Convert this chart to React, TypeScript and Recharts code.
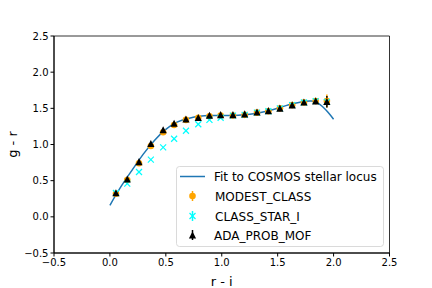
import React from 'react';
import {
  ComposedChart, Line, Scatter, XAxis, YAxis, ErrorBar, ReferenceArea, Label,
} from 'recharts';

// r - i bin centres
const riValues = [0.054, 0.155, 0.26, 0.366, 0.476, 0.574, 0.68, 0.79, 0.89, 0.99, 1.10, 1.205, 1.315, 1.417, 1.52, 1.63, 1.735, 1.84, 1.94];
// MODEST_CLASS g - r
const modestValues = [0.32, 0.51, 0.74, 0.98, 1.17, 1.27, 1.34, 1.37, 1.39, 1.40, 1.40, 1.41, 1.44, 1.46, 1.50, 1.545, 1.58, 1.60, 1.60];
const modestErrors = [0.02, 0.02, 0.02, 0.02, 0.02, 0.02, 0.02, 0.02, 0.02, 0.02, 0.02, 0.02, 0.02, 0.02, 0.02, 0.02, 0.03, 0.04, 0.09];
// CLASS_STAR_I g - r
const classStarValues = [0.33, 0.46, 0.62, 0.79, 0.96, 1.08, 1.19, 1.28, 1.34, 1.37, 1.40, 1.41, 1.44, 1.46, 1.50, 1.545, 1.58, 1.60, 1.59];
// ADA_PROB_MOF g - r
const adaValues = [0.33, 0.52, 0.76, 1.01, 1.20, 1.29, 1.35, 1.37, 1.40, 1.41, 1.41, 1.42, 1.445, 1.465, 1.50, 1.545, 1.585, 1.60, 1.59];
const adaErrors = [0.02, 0.02, 0.02, 0.02, 0.02, 0.02, 0.02, 0.02, 0.02, 0.02, 0.02, 0.02, 0.02, 0.02, 0.02, 0.02, 0.03, 0.03, 0.08];
// Fit to COSMOS stellar locus
const fitX = [0, 0.1, 0.2, 0.3, 0.4, 0.5, 0.6, 0.7, 0.8, 0.9, 1.0, 1.1, 1.2, 1.3, 1.4, 1.5, 1.6, 1.7, 1.75, 1.8, 1.85, 1.9, 1.95, 2.0];
const fitY = [0.16, 0.42, 0.65, 0.87, 1.06, 1.21, 1.31, 1.36, 1.39, 1.40, 1.40, 1.40, 1.41, 1.43, 1.46, 1.50, 1.55, 1.585, 1.597, 1.60, 1.58, 1.525, 1.445, 1.35];

const axisTicks = [-0.5, 0, 0.5, 1.0, 1.5, 2.0, 2.5];

const modestData = riValues.map((x, i) => ({ x, y: modestValues[i], err: modestErrors[i] }));
const classStarData = riValues.map((x, i) => ({ x, y: classStarValues[i] }));
const adaData = riValues.map((x, i) => ({ x, y: adaValues[i], err: adaErrors[i] }));
const fitData = fitX.map((x, i) => ({ x, y: fitY[i] }));

const FONT = 'DejaVu Sans, sans-serif';
const fmt = (v: number) => v.toFixed(1).replace('-', '\u2212');

const Circle = (p: any) => <circle cx={p.cx} cy={p.cy} r={3.3} fill="#ffa500" />;
const Cross = (p: any) => (
  <g stroke="#00ffff" strokeWidth={1.2}>
    <line x1={p.cx - 3} y1={p.cy - 3} x2={p.cx + 3} y2={p.cy + 3} />
    <line x1={p.cx - 3} y1={p.cy + 3} x2={p.cx + 3} y2={p.cy - 3} />
  </g>
);
const Tri = (p: any) => (
  <path d={`M${p.cx},${p.cy - 3.8} L${p.cx - 3.6},${p.cy + 3.3} L${p.cx + 3.6},${p.cy + 3.3} Z`} fill="#000" />
);

const LegendBox = () => (
  <svg width={432} height={288} style={{ position: 'absolute', left: 0, top: 0, pointerEvents: 'none' }}>
    <rect x={176.5} y={166.5} width={207} height={80} rx={3} fill="#fff" fillOpacity={0.8} stroke="#d0d0d0" strokeWidth={0.8} />
    <g fontFamily={FONT} fontSize={12} fill="#000">
      <line x1={180} y1={176.5} x2={205} y2={176.5} stroke="#1f77b4" strokeWidth={1.5} />
      <text x={214} y={180.5}>Fit to COSMOS stellar locus</text>
      <line x1={192.5} y1={191} x2={192.5} y2={201} stroke="#ffa500" strokeWidth={1.5} />
      <circle cx={192.5} cy={196} r={3.3} fill="#ffa500" />
      <text x={215} y={200.5}>MODEST_CLASS</text>
      <line x1={192.5} y1={211} x2={192.5} y2={221} stroke="#00ffff" strokeWidth={1.5} />
      <line x1={189.5} y1={213} x2={195.5} y2={219} stroke="#00ffff" strokeWidth={1.2} />
      <line x1={189.5} y1={219} x2={195.5} y2={213} stroke="#00ffff" strokeWidth={1.2} />
      <text x={215} y={220.5}>CLASS_STAR_I</text>
      <line x1={192.5} y1={230} x2={192.5} y2={240} stroke="#000" strokeWidth={1.5} />
      <path d="M192.5,231.5 L188.9,238.6 L196.1,238.6 Z" fill="#000" />
      <text x={214} y={239.5}>ADA_PROB_MOF</text>
    </g>
  </svg>
);

export default function App() {
  return (
    <div style={{ position: 'absolute', left: 0, top: 0, width: 432, height: 288, background: '#fff' }}>
      <ComposedChart width={432} height={288} margin={{ top: 36, right: 42.5, bottom: 5, left: 10 }}>
        <XAxis
          dataKey="x" type="number" domain={[-0.5, 2.5]} ticks={axisTicks} allowDataOverflow
          tickFormatter={fmt} height={30} tickSize={3.5} tickMargin={2}
          stroke="#000" tick={{ fill: '#000', fontSize: 10, fontFamily: FONT }}
        >
          <Label value="r - i" position="insideBottom" offset={-2.5} style={{ fontSize: 13, fontFamily: FONT, fill: '#000' }} />
        </XAxis>
        <YAxis
          dataKey="y" type="number" domain={[-0.5, 2.5]} ticks={axisTicks} allowDataOverflow
          tickFormatter={fmt} width={44} tickSize={3.5} tickMargin={2}
          stroke="#000" tick={{ fill: '#000', fontSize: 10, fontFamily: FONT }}
        >
          <Label value="g - r" angle={-90} position="insideLeft" offset={2} style={{ fontSize: 13, fontFamily: FONT, fill: '#000', textAnchor: 'middle' }} />
        </YAxis>
        <ReferenceArea x1={-0.5} x2={2.5} y1={-0.5} y2={2.5} fill="none" stroke="#000" strokeWidth={0.8} ifOverflow="visible" />
        <Line data={fitData} dataKey="y" type="natural" stroke="#1f77b4" strokeWidth={1.5} dot={false} isAnimationActive={false} />
        <Scatter data={modestData} dataKey="y" shape={Circle} isAnimationActive={false}>
          <ErrorBar dataKey="err" direction="y" width={0} stroke="#ffa500" strokeWidth={1.5} />
        </Scatter>
        <Scatter data={classStarData} dataKey="y" shape={Cross} isAnimationActive={false} />
        <Scatter data={adaData} dataKey="y" shape={Tri} isAnimationActive={false}>
          <ErrorBar dataKey="err" direction="y" width={0} stroke="#000" strokeWidth={1.5} />
        </Scatter>
      </ComposedChart>
      <LegendBox />
    </div>
  );
}
